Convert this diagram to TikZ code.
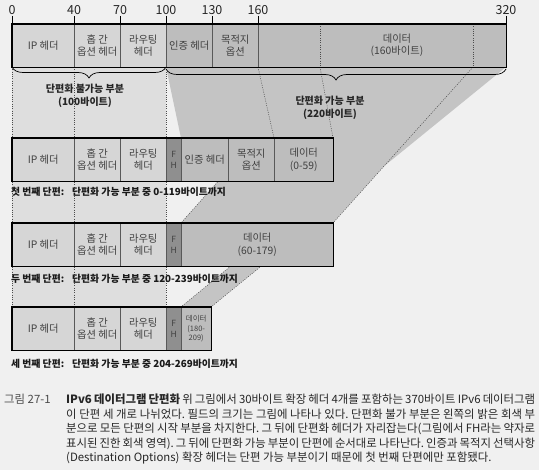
\documentclass[tikz,border=0pt]{standalone}
\usepackage{fontspec}
\setmainfont{Noto Sans CJK KR}
\usetikzlibrary{decorations.pathreplacing,calc}

\definecolor{paperc}{gray}{0.94}
\definecolor{projc}{gray}{0.87}
\definecolor{lightc}{gray}{0.84}
\definecolor{midc}{gray}{0.74}
\definecolor{bandc}{gray}{0.77}
\definecolor{fhc}{gray}{0.56}

\begin{document}
\frenchspacing
\begin{tikzpicture}[x=1pt,y=-1pt,
  cell/.style={draw=black!65, line width=0.5pt, inner sep=0pt, minimum height=43pt,
    anchor=north west, align=center, text=black!75, font=\fontsize{10.3}{12.5}\selectfont},
  light/.style={cell, fill=lightc},
  frag/.style={cell, fill=midc},
  fhead/.style={cell, fill=fhc, font=\fontsize{8.5}{11}\selectfont},
  outline/.style={draw=black, line width=1.1pt},
  guide/.style={draw=black!70, line width=0.5pt, dash pattern=on 1pt off 1.3pt},
  band/.style={fill=bandc},
  ticknum/.style={font=\fontsize{12.5}{14}\selectfont, text=black!85, inner sep=1pt},
  brace/.style={decorate, decoration={brace, amplitude=11pt}, draw=black, line width=0.7pt},
  bracetxt/.style={align=center, font=\bfseries\fontsize{10}{12.5}\selectfont, text=black!85},
  fragtxt/.style={anchor=west, inner sep=0pt, font=\bfseries\fontsize{9.8}{12}\selectfont, text=black!90},
  captxt/.style={anchor=base west, inner sep=0pt, font=\fontsize{11.4}{13}\selectfont, text=black!85}]

\useasboundingbox (0,0) rectangle (539,470);
\fill[paperc] (0,0) rectangle (539,470);

% points on the original datagram and on the fragments
\coordinate (p0) at (12,67);
\coordinate (p40) at (74,67);
\coordinate (p100) at (166,67);
\coordinate (p160) at (258,67);
\coordinate (p60) at (320,67);
\coordinate (p180) at (473,67);
\coordinate (p320) at (506,67);
\coordinate (q1a) at (181,138);
\coordinate (q1b) at (274,138);
\coordinate (q1c) at (333,138);
\coordinate (q2a) at (181,223);
\coordinate (q2b) at (333,223);
\coordinate (q3a) at (181,307);
\coordinate (q3b) at (211,307);

% unfragmentable part, carried into every fragment
\fill[projc] (p0) rectangle (166,307);

% fragmentable part, spread over the fragments
\fill[band] (p100) -- (p60) -- (q1c) -- (q1a) -- cycle;
\fill[band] (p60) -- (p180) -- (q2b) -- (q2a) -- cycle;
\fill[band] (p180) -- (p320) -- (q3b) -- (q3a) -- cycle;

\draw[guide] (p0) -- (p0 |- q3a);
\draw[guide] (p40) -- (p40 |- q3a);
\draw[guide] (p100) -- (p100 |- q3a);
\draw[guide] (p160) -- (q1b);
\draw[guide] (p60) -- (q1c);
\draw[guide] (p180) -- (q2b);
\draw[guide] ($(p60)!0.737!(q2a)$) -- (q2a);
\draw[guide] ($(p180)!0.829!(q3a)$) -- (q3a);
\draw[guide] ($(p320)!0.829!(q3b)$) -- (q3b);

% original datagram
\node[light, minimum width=62pt] (t-ip) at (12,24) {IP 헤더};
\node[light, minimum width=46pt] (t-hop) at (74,24) {홉 간\\옵션 헤더};
\node[light, minimum width=46pt] (t-rt) at (120,24) {라우팅\\헤더};
\node[frag, minimum width=46pt] (t-auth) at (166,24) {인증 헤더};
\node[frag, minimum width=46pt] (t-dest) at (212,24) {목적지\\옵션};
\node[frag, minimum width=248pt] (t-data) at (258,24) {};
\node[align=center, text=black!75, font=\fontsize{10.3}{12.5}\selectfont] (t-data-txt) at (397,45.5) {데이터\\(160바이트)};
\draw[guide] (p60 |- t-data.north) -- (p60);
\draw[guide] (p180 |- t-data.north) -- (p180);
\draw[outline] (t-ip.north west) rectangle (t-data.south east);

% offsets
\node[ticknum] (n0) at (12,10) {0};
\node[ticknum] (n40) at (74,10) {40};
\node[ticknum] (n70) at (120,10) {70};
\node[ticknum] (n100) at (166,10) {100};
\node[ticknum] (n130) at (212,10) {130};
\node[ticknum] (n160) at (258,10) {160};
\node[ticknum] (n320) at (506,10) {320};
\draw[line width=0.6pt] (n0.south) -- (n0.south |- t-ip.north);
\draw[line width=0.6pt] (n40.south) -- (n40.south |- t-ip.north);
\draw[line width=0.6pt] (n70.south) -- (n70.south |- t-ip.north);
\draw[line width=0.6pt] (n100.south) -- (n100.south |- t-ip.north);
\draw[line width=0.6pt] (n130.south) -- (n130.south |- t-ip.north);
\draw[line width=0.6pt] (n160.south) -- (n160.south |- t-ip.north);
\draw[line width=0.6pt] (n320.south) -- (n320.south |- t-ip.north);

% braces
\draw[brace] (p100) -- (p0);
\draw[brace] ([yshift=-2pt]p320) -- ([yshift=-2pt]p100);
\node[bracetxt] (nf-txt) at (85,96) {단편화 불가능 부분\\(100바이트)};
\node[bracetxt] (fr-txt) at (330,108) {단편화 가능 부분\\(220바이트)};

% first fragment
\node[light, minimum width=62pt] (f1-ip) at (12,138) {IP 헤더};
\node[light, minimum width=46pt] (f1-hop) at (74,138) {홉 간\\옵션 헤더};
\node[light, minimum width=46pt] (f1-rt) at (120,138) {라우팅\\헤더};
\node[fhead, minimum width=15pt] (f1-fh) at (166,138) {F\\H};
\node[frag, minimum width=47pt] (f1-auth) at (181,138) {인증 헤더};
\node[frag, minimum width=46pt] (f1-dest) at (228,138) {목적지\\옵션};
\node[frag, minimum width=59pt] (f1-data) at (274,138) {데이터\\(0-59)};
\draw[outline] (f1-ip.north west) rectangle (f1-data.south east);
\node[fragtxt] (f1-name) at (11,192) {첫 번째 단편:};
\node[fragtxt] (f1-range) at (72,192) {단편화 가능 부분 중 0-119바이트까지};

% second fragment
\node[light, minimum width=62pt] (f2-ip) at (12,223) {IP 헤더};
\node[light, minimum width=46pt] (f2-hop) at (74,223) {홉 간\\옵션 헤더};
\node[light, minimum width=46pt] (f2-rt) at (120,223) {라우팅\\헤더};
\node[fhead, minimum width=15pt] (f2-fh) at (166,223) {F\\H};
\node[frag, minimum width=152pt] (f2-data) at (181,223) {데이터\\(60-179)};
\draw[outline] (f2-ip.north west) rectangle (f2-data.south east);
\node[fragtxt] (f2-name) at (11,279) {두 번째 단편:};
\node[fragtxt] (f2-range) at (72,279) {단편화 가능 부분 중 120-239바이트까지};

% third fragment
\node[light, minimum width=62pt] (f3-ip) at (12,307) {IP 헤더};
\node[light, minimum width=46pt] (f3-hop) at (74,307) {홉 간\\옵션 헤더};
\node[light, minimum width=46pt] (f3-rt) at (120,307) {라우팅\\헤더};
\node[fhead, minimum width=15pt] (f3-fh) at (166,307) {F\\H};
\node[frag, minimum width=30pt, font=\fontsize{7.5}{9.5}\selectfont] (f3-data) at (181,307) {데이터\\(180-\\209)};
\draw[outline] (f3-ip.north west) rectangle (f3-data.south east);
\node[fragtxt] (f3-name) at (11,364) {세 번째 단편:};
\node[fragtxt] (f3-range) at (72,364) {단편화 가능 부분 중 204-269바이트까지};

% caption
\node[captxt, text=black!70] (fig-no) at (4,404) {그림 27-1};
\node[captxt] (cap-1) at (66,404) {\makebox[469pt][s]{{\bfseries IPv6 데이터그램 단편화} 위 그림에서 30바이트 확장 헤더 4개를 포함하는 370바이트 IPv6 데이터그램}};
\node[captxt] (cap-2) at (66,418.5) {\makebox[469pt][s]{이 단편 세 개로 나뉘었다. 필드의 크기는 그림에 나타나 있다. 단편화 불가 부분은 왼쪽의 밝은 회색 부}};
\node[captxt] (cap-3) at (66,433) {\makebox[469pt][s]{분으로 모든 단편의 시작 부분을 차지한다. 그 뒤에 단편화 헤더가 자리잡는다(그림에서 FH라는 약자로}};
\node[captxt] (cap-4) at (66,447.5) {\makebox[469pt][s]{표시된 진한 회색 영역). 그 뒤에 단편화 가능 부분이 단편에 순서대로 나타난다. 인증과 목적지 선택사항}};
\node[captxt] (cap-5) at (66,462) {(Destination Options) 확장 헤더는 단편 가능 부분이기 때문에 첫 번째 단편에만 포함됐다.};
\end{tikzpicture}
\end{document}
